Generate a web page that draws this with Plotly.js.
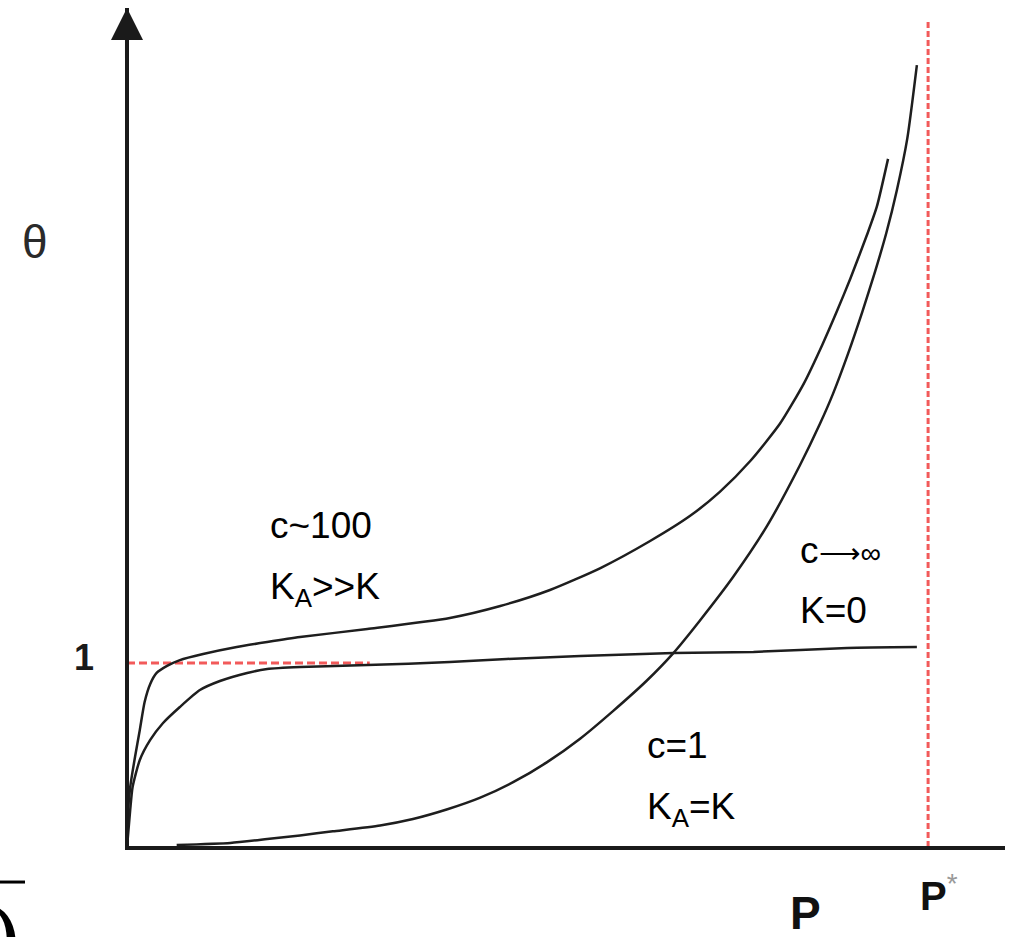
<!DOCTYPE html>
<html>
<head>
<meta charset="utf-8">
<script src="https://cdn.plot.ly/plotly-3.0.1.min.js"></script>
<style>html,body{margin:0;padding:0;background:#fff;}#chart{width:1009px;height:937px;}</style>
</head>
<body>
<div id="chart"></div>
<script>
// Relative pressure P/P* and coverage theta
var c100_P = [0, 0.001, 0.004, 0.010, 0.016, 0.022, 0.029, 0.037, 0.050, 0.066, 0.095, 0.137, 0.175, 0.216, 0.300, 0.403, 0.466, 0.528, 0.591, 0.653, 0.703, 0.740, 0.778, 0.815, 0.845, 0.868, 0.886, 0.903, 0.924, 0.936, 0.950];
var c100_theta = [0, 0.174, 0.326, 0.489, 0.636, 0.788, 0.886, 0.946, 0.984, 1.016, 1.049, 1.087, 1.114, 1.141, 1.185, 1.245, 1.310, 1.397, 1.516, 1.663, 1.800, 1.930, 2.098, 2.300, 2.520, 2.730, 2.910, 3.090, 3.330, 3.480, 3.740];

var cinf_P = [0, 0.004, 0.007, 0.016, 0.029, 0.045, 0.066, 0.091, 0.116, 0.150, 0.175, 0.216, 0.300, 0.403, 0.474, 0.566, 0.682, 0.782, 0.899, 0.986];
var cinf_theta = [0, 0.201, 0.326, 0.473, 0.582, 0.674, 0.761, 0.853, 0.902, 0.946, 0.967, 0.978, 0.989, 1.005, 1.022, 1.038, 1.054, 1.060, 1.082, 1.087];

var c1_P = [0.062, 0.129, 0.175, 0.216, 0.257, 0.316, 0.357, 0.400, 0.441, 0.482, 0.524, 0.566, 0.607, 0.649, 0.682, 0.715, 0.757, 0.799, 0.840, 0.865, 0.881, 0.900, 0.918, 0.934, 0.948, 0.961, 0.974, 0.986];
var c1_theta = [0.011, 0.022, 0.043, 0.063, 0.085, 0.117, 0.152, 0.205, 0.268, 0.352, 0.460, 0.590, 0.740, 0.905, 1.054, 1.230, 1.470, 1.745, 2.075, 2.300, 2.460, 2.680, 2.910, 3.130, 3.340, 3.570, 3.850, 4.250];

var P_STAR = 1;          // saturation pressure
var THETA_MONO = 1;      // monolayer coverage
var MONO_LINE_END = 0.303;
var PSTAR_LINE_TOP = 4.495;

var curveStyle = {color: '#1e1e1e', width: 2.5, shape: 'spline', smoothing: 0.6};
var traces = [
  {x: c100_P, y: c100_theta, mode: 'lines', line: curveStyle, name: 'c~100', hoverinfo: 'skip'},
  {x: cinf_P, y: cinf_theta, mode: 'lines', line: curveStyle, name: 'c→∞', hoverinfo: 'skip'},
  {x: c1_P, y: c1_theta, mode: 'lines', line: curveStyle, name: 'c=1', hoverinfo: 'skip'}
];

var FONT = 'Liberation Sans, Arial, sans-serif';
var lblFont = {family: FONT, size: 37, color: '#000'};

var layout = {
  width: 1009, height: 937,
  margin: {l: 129, r: 4, t: 8, b: 91},
  paper_bgcolor: '#fff', plot_bgcolor: '#fff',
  showlegend: false,
  xaxis: {range: [0.0025, 1.096], showline: true, linewidth: 4, linecolor: '#1a1a1a',
          showgrid: false, zeroline: false, showticklabels: false, ticks: ''},
  yaxis: {range: [0.0054, 4.56], showline: true, linewidth: 4, linecolor: '#1a1a1a',
          showgrid: false, zeroline: false, showticklabels: false, ticks: ''},
  shapes: [
    {type: 'line', xref: 'x', yref: 'y', x0: 0, x1: MONO_LINE_END, y0: THETA_MONO, y1: THETA_MONO,
     line: {color: '#f25a5a', width: 3, dash: '8px,4px'}, layer: 'below'},
    {type: 'line', xref: 'x', yref: 'y', x0: P_STAR, x1: P_STAR, y0: 0, y1: PSTAR_LINE_TOP,
     line: {color: '#f25a5a', width: 3, dash: '6px,3px'}, layer: 'below'},
    {type: 'line', xref: 'paper', yref: 'paper', x0: -0.1473, x1: -0.1187, y0: -0.043, y1: -0.043,
     line: {color: '#000', width: 3}}
  ],
  annotations: [
    // y-axis arrow head
    {xref: 'paper', yref: 'paper', x: -0.0023, y: 1.0, text: ' ', showarrow: true,
     axref: 'pixel', ayref: 'pixel', ax: 0, ay: 60, arrowhead: 2, arrowsize: 1.6, arrowwidth: 4,
     arrowcolor: '#1a1a1a', standoff: 0},
    {xref: 'x', yref: 'y', x: 0.176, y: 1.75, xanchor: 'left', yanchor: 'middle', showarrow: false,
     text: 'c~100', font: lblFont},
    {xref: 'x', yref: 'y', x: 0.176, y: 1.40, xanchor: 'left', yanchor: 'middle', showarrow: false,
     text: 'K<sub>A</sub>>>K', font: lblFont},
    {xref: 'x', yref: 'y', x: 0.838, y: 1.609, xanchor: 'left', yanchor: 'middle', showarrow: false,
     text: 'c<span style="font-size:29px">⟶∞</span>', font: lblFont},
    {xref: 'x', yref: 'y', x: 0.838, y: 1.283, xanchor: 'left', yanchor: 'middle', showarrow: false,
     text: 'K=0', font: lblFont},
    {xref: 'x', yref: 'y', x: 0.647, y: 0.554, xanchor: 'left', yanchor: 'middle', showarrow: false,
     text: 'c=1', font: lblFont},
    {xref: 'x', yref: 'y', x: 0.647, y: 0.205, xanchor: 'left', yanchor: 'middle', showarrow: false,
     text: 'K<sub>A</sub>=K', font: lblFont},
    {xref: 'paper', yref: 'paper', x: -0.1073, y: 0.7208, xanchor: 'center', yanchor: 'middle', showarrow: false,
     text: 'θ', font: {family: FONT, size: 46, color: '#2a2a2a'}},
    {xref: 'paper', yref: 'paper', x: -0.0514, y: 0.2255, xanchor: 'center', yanchor: 'middle', showarrow: false,
     text: '<b>1</b>', font: {family: FONT, size: 36, color: '#1a1a1a'}},
    {xref: 'paper', yref: 'paper', x: 0.7717, y: -0.080, xanchor: 'center', yanchor: 'middle', showarrow: false,
     text: '<b>P</b>', font: {family: FONT, size: 46, color: '#111'}},
    {xref: 'paper', yref: 'paper', x: 0.9007, y: -0.0561, xanchor: 'left', yanchor: 'middle', showarrow: false,
     text: '<b>P</b><sup><span style="color:#999">*</span></sup>', font: {family: FONT, size: 40, color: '#111'}},
    {xref: 'paper', yref: 'paper', x: -0.163, y: -0.05, xanchor: 'left', yanchor: 'top', showarrow: false,
     text: ')', font: {family: 'DejaVu Serif, serif', size: 90, color: '#000'}}
  ]
};

Plotly.newPlot('chart', traces, layout, {staticPlot: true, displayModeBar: false});
</script>
</body>
</html>
